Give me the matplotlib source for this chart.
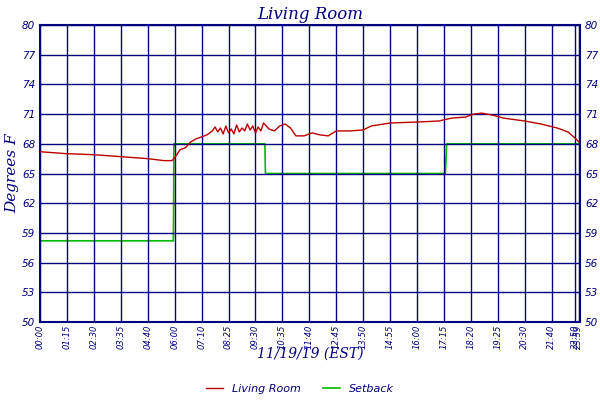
import matplotlib
matplotlib.use("Agg")
import matplotlib.pyplot as plt

tick_labels = ["00:00","01:15","02:30","03:35","04:40","06:00","07:10","08:25","09:30","10:35",
               "11:40","12:45","13:50","14:55","16:00","17:15","18:20","19:25","20:30","21:40","22:50","23:59"]
tick_pos = list(range(20)) + [19.88, 20.0]

room_x = [0,0.5,1,2,3,4,4.6,4.9,5.0,5.1,5.2,5.4,5.6,5.8,6.0,6.2,6.4,6.5,6.6,6.7,6.8,6.9,7.0,7.1,7.2,7.3,7.4,
          7.5,7.6,7.7,7.8,7.9,8.0,8.1,8.2,8.3,8.5,8.7,8.9,9.1,9.3,9.5,9.8,10.1,10.4,10.7,11.0,11.5,12.0,12.3,
          13.0,14.0,14.8,15.3,15.8,16.1,16.4,16.8,17.2,18.0,18.6,19.2,19.6,19.9,20.0]
room_y = [67.2,67.1,67.0,66.9,66.7,66.5,66.3,66.3,66.6,67.0,67.4,67.6,68.2,68.5,68.7,68.9,69.3,69.7,69.2,
          69.6,69.0,69.8,69.1,69.5,69.0,69.9,69.2,69.6,69.3,70.0,69.4,69.8,69.1,69.7,69.3,70.1,69.5,69.3,
          69.8,70.0,69.6,68.8,68.8,69.1,68.9,68.8,69.3,69.3,69.4,69.8,70.1,70.2,70.3,70.6,70.7,71.0,71.1,70.9,
          70.6,70.3,70.0,69.6,69.2,68.5,68.2]
set_x = [0,4.95,4.96,4.97,8.35,8.37,15.05,15.1,20.0]
set_y = [58.2,58.2,60.5,68.0,68.0,65.0,65.0,68.0,68.0]

navy = "#000080"
fig = plt.figure(figsize=(6,4), dpi=100)
ax = fig.add_axes([40/600, 1-322/400, 540/600, 297/400])
ax.plot(set_x, set_y, color="#00bb00", lw=1.2, zorder=1, label="Setback")
ax.plot(room_x, room_y, color="#bb0000", lw=1, zorder=3, label="Living Room")
ax.set_xlim(0, 20.05)
ax.set_ylim(50, 80)
yt = list(range(50, 81, 3))
ax.set_yticks(yt)
ax.set_xticks(tick_pos)
ax.set_xticklabels(tick_labels, rotation=90, fontsize=6, color=navy, style="italic")
ax.tick_params(axis="y", labelsize=7.5, colors=navy, labelright=True, right=True, length=0)
for l in ax.get_yticklabels():
    l.set_style("italic")
ax.tick_params(axis="x", length=0, colors=navy, pad=2)
ax.grid(True, color=navy, lw=1, zorder=2)
ax.set_axisbelow(False)
for s in ax.spines.values():
    s.set_color(navy); s.set_linewidth(1.5)
ax.set_title("Living Room", color=navy, fontsize=12, style="italic", family="DejaVu Serif", pad=4)
ax.set_ylabel("Degrees F", color=navy, fontsize=11, style="italic", family="DejaVu Serif", labelpad=2)
fig.text(310/600, 1-354/400, "11/19/19 (EST)", ha="center", va="center", color=navy, fontsize=10,
         style="italic", family="DejaVu Serif")
h, lab = ax.get_legend_handles_labels()
fig.legend(h[::-1], lab[::-1], loc="center", bbox_to_anchor=(300/600, 1-389/400), ncol=2, frameon=False,
           prop={"style": "italic", "size": 8}, labelcolor=navy, handlelength=1.5, columnspacing=2)
fig.savefig("out.png", dpi=100)
